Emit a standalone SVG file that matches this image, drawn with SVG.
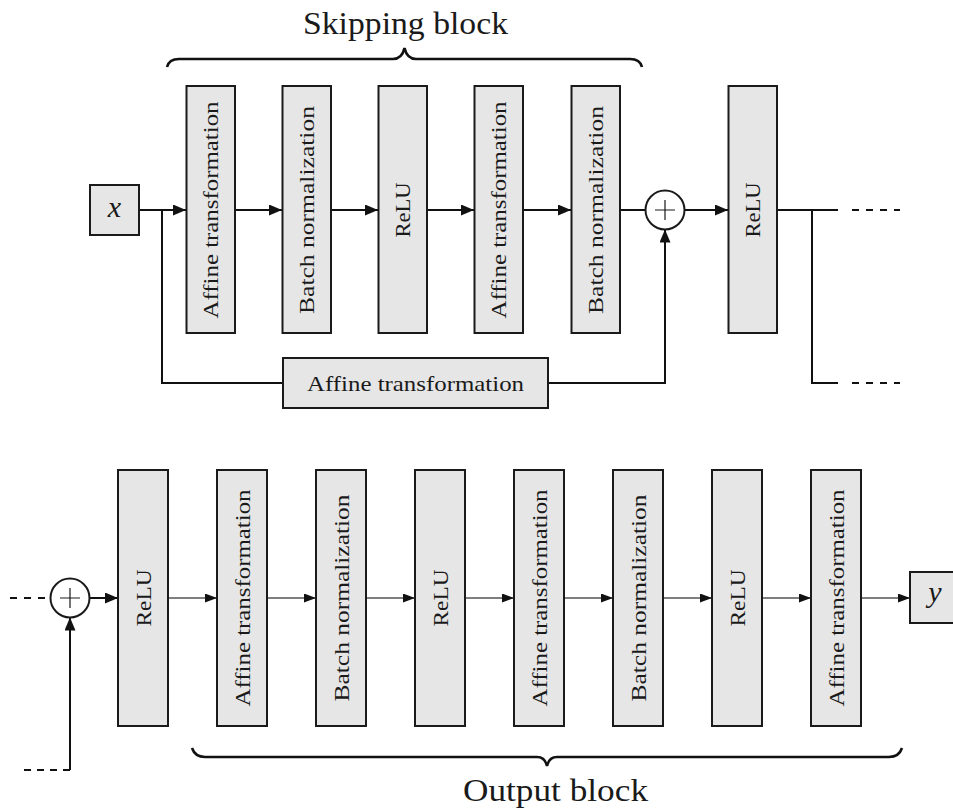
<svg xmlns="http://www.w3.org/2000/svg" width="953" height="812" viewBox="0 0 953 812">
<style>
.box{fill:#e6e6e6;stroke:#1a1a1a;stroke-width:2}
.sum{fill:#fff;stroke:#1a1a1a;stroke-width:2}
.plus{stroke:#1a1a1a;stroke-width:1.2;fill:none}
.lbl{font-family:"Liberation Serif","DejaVu Serif",serif;font-size:22px;fill:#1a1a1a;text-anchor:middle}
.math{font-family:"Liberation Serif","DejaVu Serif",serif;font-style:italic;font-size:30px;fill:#1a1a1a;text-anchor:middle}
.title{font-family:"Liberation Serif","DejaVu Serif",serif;font-size:32px;fill:#1a1a1a;text-anchor:middle}
.thick{stroke:#111;stroke-width:2;fill:none}
.thin{stroke:#555;stroke-width:1.3;fill:none}
.dash{stroke:#111;stroke-width:2;fill:none;stroke-dasharray:7 7}
.brace{stroke:#111;stroke-width:2.6;fill:none}
</style>
<defs>
<marker id="ah" viewBox="0 0 13 11" markerWidth="13" markerHeight="11" refX="13" refY="5.5" orient="auto" markerUnits="userSpaceOnUse"><path d="M0,0 L13,5.5 L0,11 z" fill="#111"/></marker>
<marker id="as" viewBox="0 0 12 9" markerWidth="12" markerHeight="9" refX="12" refY="4.5" orient="auto" markerUnits="userSpaceOnUse"><path d="M0,0 L12,4.5 L0,9 z" fill="#111"/></marker>
</defs>

<g id="connectors">
<!-- top row -->
<path class="thick" d="M139,210 H186" marker-end="url(#ah)"/>
<path class="thick" d="M235,210 H282" marker-end="url(#ah)"/>
<path class="thick" d="M331,210 H378" marker-end="url(#ah)"/>
<path class="thick" d="M427,210 H474" marker-end="url(#ah)"/>
<path class="thick" d="M523,210 H571" marker-end="url(#ah)"/>
<path class="thick" d="M620,210 H645.5"/>
<path class="thick" d="M684.5,210 H728" marker-end="url(#ah)"/>
<path class="thick" d="M162,210 V383 H283"/>
<path class="thick" d="M548,383 H665 V229.5" marker-end="url(#ah)"/>
<path class="thick" d="M777,210 H838"/>
<path class="dash" d="M852,210 H900"/>
<path class="thick" d="M812,210 V383 H838"/>
<path class="dash" d="M852,383 H900"/>
<!-- bottom row -->
<path class="dash" d="M10,598 H50"/>
<path class="thick" d="M70,770 V617.5" marker-end="url(#ah)"/>
<path class="thick" style="stroke-dasharray:7 6" d="M70,770 H23"/>
<path class="thick" d="M89.5,598 H118" marker-end="url(#ah)"/>
<path class="thin" d="M168,598 H217" marker-end="url(#as)"/>
<path class="thin" d="M267,598 H316" marker-end="url(#as)"/>
<path class="thin" d="M366,598 H415" marker-end="url(#as)"/>
<path class="thin" d="M465,598 H514" marker-end="url(#as)"/>
<path class="thin" d="M564,598 H613" marker-end="url(#as)"/>
<path class="thin" d="M663,598 H712" marker-end="url(#as)"/>
<path class="thin" d="M762,598 H811" marker-end="url(#as)"/>
<path class="thin" d="M861,598 H910" marker-end="url(#as)"/>
</g>

<g id="skipping-block-brace">
<path class="brace" d="M167,67 Q169,59 179,59 L393,59 Q402,59 404.5,48 Q407,59 416,59 L630,59 Q640,59 642,67"/>
<text class="title" x="405.5" y="34" textLength="205" lengthAdjust="spacingAndGlyphs">Skipping block</text>
</g>

<g id="output-block-brace">
<path class="brace" d="M192,748 Q195,757 205,757 L537,757 Q545,757 547,766 Q549,757 557,757 L889,757 Q899,757 902,748"/>
<text class="title" x="555.5" y="801" textLength="185" lengthAdjust="spacingAndGlyphs">Output block</text>
</g>

<g id="input-x"><rect class="box" x="90" y="185" width="49" height="50"/><text class="math" x="114.5" y="217">x</text></g>

<g id="t-affine1"><rect class="box" x="186.5" y="86" width="48.5" height="247"/><text class="lbl" transform="translate(210.75,210) rotate(-90)" y="7.5" textLength="217" lengthAdjust="spacingAndGlyphs">Affine transformation</text></g>
<g id="t-bn1"><rect class="box" x="282.5" y="86" width="48.5" height="247"/><text class="lbl" transform="translate(306.75,210) rotate(-90)" y="7.5" textLength="208" lengthAdjust="spacingAndGlyphs">Batch normalization</text></g>
<g id="t-relu1"><rect class="box" x="378.5" y="86" width="48.5" height="247"/><text class="lbl" transform="translate(402.75,210) rotate(-90)" y="7.5" textLength="55" lengthAdjust="spacingAndGlyphs">ReLU</text></g>
<g id="t-affine2"><rect class="box" x="474.5" y="86" width="48.5" height="247"/><text class="lbl" transform="translate(498.75,210) rotate(-90)" y="7.5" textLength="217" lengthAdjust="spacingAndGlyphs">Affine transformation</text></g>
<g id="t-bn2"><rect class="box" x="571.5" y="86" width="48.5" height="247"/><text class="lbl" transform="translate(595.75,210) rotate(-90)" y="7.5" textLength="208" lengthAdjust="spacingAndGlyphs">Batch normalization</text></g>
<g id="t-sum"><circle class="sum" cx="665" cy="210" r="19.5"/><path class="plus" d="M655,210 H675 M665,200 V220"/></g>
<g id="t-relu2"><rect class="box" x="728.5" y="86" width="48.5" height="247"/><text class="lbl" transform="translate(752.75,210) rotate(-90)" y="7.5" textLength="55" lengthAdjust="spacingAndGlyphs">ReLU</text></g>
<g id="t-skip-affine"><rect class="box" x="283" y="358" width="265" height="50"/><text class="lbl" x="415.5" y="391" textLength="217" lengthAdjust="spacingAndGlyphs">Affine transformation</text></g>

<g id="b-sum"><circle class="sum" cx="70" cy="598" r="19.5"/><path class="plus" d="M60,598 H80 M70,588 V608"/></g>
<g id="b-relu1"><rect class="box" x="118" y="470" width="50" height="256"/><text class="lbl" transform="translate(143,598) rotate(-90)" y="7.5" textLength="57" lengthAdjust="spacingAndGlyphs">ReLU</text></g>
<g id="b-affine1"><rect class="box" x="217" y="470" width="50" height="256"/><text class="lbl" transform="translate(242,598) rotate(-90)" y="7.5" textLength="217" lengthAdjust="spacingAndGlyphs">Affine transformation</text></g>
<g id="b-bn1"><rect class="box" x="316" y="470" width="50" height="256"/><text class="lbl" transform="translate(341,598) rotate(-90)" y="7.5" textLength="207" lengthAdjust="spacingAndGlyphs">Batch normalization</text></g>
<g id="b-relu2"><rect class="box" x="415" y="470" width="50" height="256"/><text class="lbl" transform="translate(440,598) rotate(-90)" y="7.5" textLength="57" lengthAdjust="spacingAndGlyphs">ReLU</text></g>
<g id="b-affine2"><rect class="box" x="514" y="470" width="50" height="256"/><text class="lbl" transform="translate(539,598) rotate(-90)" y="7.5" textLength="217" lengthAdjust="spacingAndGlyphs">Affine transformation</text></g>
<g id="b-bn2"><rect class="box" x="613" y="470" width="50" height="256"/><text class="lbl" transform="translate(638,598) rotate(-90)" y="7.5" textLength="207" lengthAdjust="spacingAndGlyphs">Batch normalization</text></g>
<g id="b-relu3"><rect class="box" x="712" y="470" width="50" height="256"/><text class="lbl" transform="translate(737,598) rotate(-90)" y="7.5" textLength="57" lengthAdjust="spacingAndGlyphs">ReLU</text></g>
<g id="b-affine3"><rect class="box" x="811" y="470" width="50" height="256"/><text class="lbl" transform="translate(836,598) rotate(-90)" y="7.5" textLength="217" lengthAdjust="spacingAndGlyphs">Affine transformation</text></g>
<g id="output-y"><rect class="box" x="910" y="572" width="48" height="51"/><text class="math" x="935" y="602">y</text></g>
</svg>
